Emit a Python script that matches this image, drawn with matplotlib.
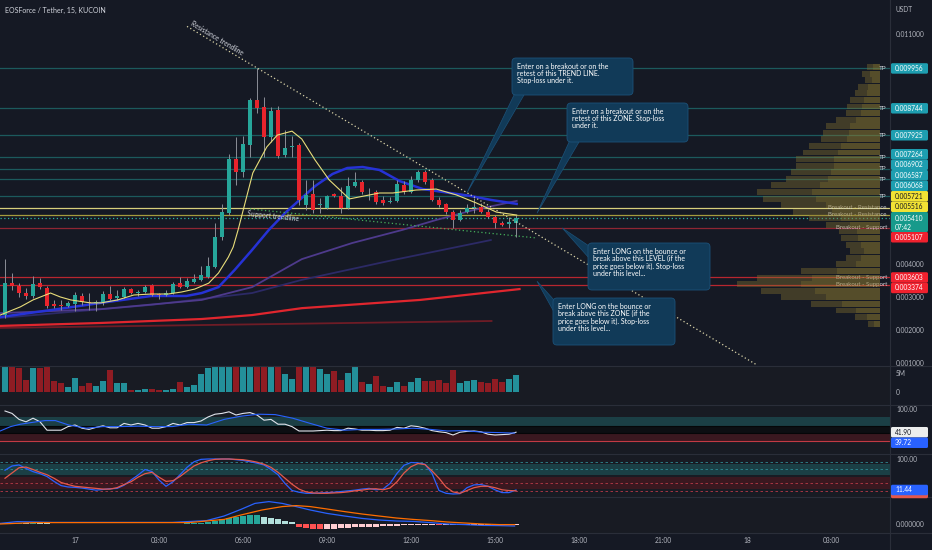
import numpy as np
import matplotlib
matplotlib.use("Agg")
import matplotlib.pyplot as plt
from matplotlib.patches import FancyBboxPatch, Polygon
from matplotlib.lines import Line2D
from matplotlib.transforms import IdentityTransform

plt.rcParams['font.family'] = ['Lato', 'DejaVu Sans']

# ---------------- data ----------------
title = "EOSForce / Tether, 15, KUCOIN"
first_bar_hour = -2.5          # 21:30 on the 16th, hours from 17th 00:00
bar_step = 0.25                # 15 minutes

opens = [0.00246, 0.00344, 0.00334, 0.00313, 0.00304, 0.00344, 0.00328, 0.00280, 0.00277, 0.00274,
         0.00280, 0.00304, 0.00286, 0.00283, 0.00286, 0.00310, 0.00298, 0.00301, 0.00325, 0.00313,
         0.00316, 0.00337, 0.00310, 0.00307, 0.00313, 0.00344, 0.00331, 0.00347, 0.00353, 0.00362,
         0.00392, 0.00483, 0.00556, 0.00720, 0.00681, 0.00763, 0.00900, 0.00878, 0.00787, 0.00869,
         0.00733, 0.00757, 0.00763, 0.00581, 0.00614, 0.00581, 0.00571, 0.00614, 0.00608, 0.00571,
         0.00638, 0.00650, 0.00619, 0.00620, 0.00596, 0.00590, 0.00593, 0.00641, 0.00620, 0.00657,
         0.00681, 0.00657, 0.00596, 0.00584, 0.00559, 0.00535, 0.00559, 0.00571, 0.00574, 0.00559,
         0.00544, 0.00526, 0.00523, 0.00526]
highs = [0.00417, 0.00374, 0.00344, 0.00328, 0.00365, 0.00359, 0.00334, 0.00292, 0.00292, 0.00289,
         0.00316, 0.00313, 0.00313, 0.00292, 0.00319, 0.00334, 0.00322, 0.00331, 0.00328, 0.00322,
         0.00337, 0.00340, 0.00313, 0.00322, 0.00347, 0.00362, 0.00359, 0.00371, 0.00395, 0.00423,
         0.00526, 0.00584, 0.00736, 0.00787, 0.00790, 0.00905, 0.00997, 0.00909, 0.00878, 0.00881,
         0.00809, 0.00790, 0.00769, 0.00657, 0.00657, 0.00602, 0.00611, 0.00617, 0.00635, 0.00666,
         0.00681, 0.00657, 0.00632, 0.00626, 0.00608, 0.00605, 0.00657, 0.00653, 0.00669, 0.00687,
         0.00687, 0.00663, 0.00605, 0.00587, 0.00565, 0.00565, 0.00584, 0.00602, 0.00587, 0.00568,
         0.00550, 0.00532, 0.00541, 0.00550]
lows = [0.00237, 0.00322, 0.00301, 0.00295, 0.00298, 0.00325, 0.00267, 0.00267, 0.00261, 0.00271,
        0.00258, 0.00277, 0.00261, 0.00258, 0.00277, 0.00292, 0.00292, 0.00298, 0.00310, 0.00304,
        0.00313, 0.00304, 0.00295, 0.00304, 0.00310, 0.00328, 0.00328, 0.00344, 0.00350, 0.00359,
        0.00389, 0.00474, 0.00550, 0.00641, 0.00666, 0.00726, 0.00860, 0.00726, 0.00772, 0.00723,
        0.00726, 0.00726, 0.00581, 0.00565, 0.00556, 0.00556, 0.00568, 0.00605, 0.00556, 0.00568,
        0.00635, 0.00614, 0.00596, 0.00584, 0.00581, 0.00587, 0.00590, 0.00614, 0.00617, 0.00650,
        0.00644, 0.00593, 0.00574, 0.00553, 0.00511, 0.00532, 0.00556, 0.00556, 0.00556, 0.00541,
        0.00511, 0.00517, 0.00511, 0.00483]
closes = [0.00344, 0.00334, 0.00313, 0.00304, 0.00340, 0.00331, 0.00274, 0.00274, 0.00275, 0.00283,
          0.00307, 0.00286, 0.00284, 0.00286, 0.00310, 0.00295, 0.00304, 0.00325, 0.00313, 0.00316,
          0.00331, 0.00307, 0.00307, 0.00313, 0.00340, 0.00331, 0.00350, 0.00356, 0.00368, 0.00395,
          0.00483, 0.00559, 0.00720, 0.00681, 0.00766, 0.00900, 0.00875, 0.00787, 0.00866, 0.00729,
          0.00754, 0.00760, 0.00596, 0.00611, 0.00565, 0.00584, 0.00608, 0.00608, 0.00571, 0.00638,
          0.00650, 0.00620, 0.00621, 0.00590, 0.00587, 0.00593, 0.00644, 0.00620, 0.00657, 0.00681,
          0.00650, 0.00596, 0.00581, 0.00559, 0.00535, 0.00556, 0.00571, 0.00573, 0.00559, 0.00544,
          0.00526, 0.00520, 0.00529, 0.00541]
volumes_m = [7.0, 7.0, 6.3, 3.2, 6.3, 6.3, 7.0, 2.8, 2.3, 1.2,
             3.8, 1.7, 2.3, 1.7, 3.0, 5.8, 2.3, 2.3, 0.6, 0.6,
             0.9, 0.8, 0.6, 0.4, 0.8, 2.7, 1.3, 1.9, 4.7, 6.3,
             9.0, 12.0, 10.0, 11.0, 9.5, 13.0, 10.0, 12.0, 9.0, 7.0,
             4.7, 3.4, 7.0, 8.0, 7.0, 6.1, 4.7, 5.5, 3.2, 5.1,
             8.5, 2.7, 2.0, 4.1, 1.7, 1.4, 2.5, 1.5, 2.6, 3.8,
             2.8, 2.8, 3.2, 2.4, 5.8, 2.3, 2.9, 3.2, 2.6, 2.4,
             3.3, 2.6, 3.3, 4.4]

# moving averages (bar position, price)
ma_fast_pos = [-0.7, 2.2, 4.0, 6.5, 7.9, 9.4, 12.2, 13.7, 16.1, 18.4, 20.9, 23.3, 25.2, 27.1, 29.1, 30.5,
               31.9, 32.6, 33.3, 35.4, 37.4, 38.9, 41.0, 42.4, 44.3, 46.3, 49.2, 50.6, 53.5, 55.4, 58.7,
               61.6, 64.5, 67.3, 70.2, 73.1]
ma_fast_val = [0.00246, 0.00271, 0.00292, 0.00313, 0.00301, 0.00292, 0.00283, 0.00283, 0.00292, 0.00307,
               0.00310, 0.00310, 0.00316, 0.00325, 0.00343, 0.00374, 0.00422, 0.00453, 0.00505, 0.00678,
               0.00757, 0.00793, 0.00805, 0.00781, 0.00717, 0.00657, 0.00599, 0.00605, 0.00617, 0.00617,
               0.00626, 0.00629, 0.00611, 0.00587, 0.00559, 0.00550]
ma_blue_pos = [-0.7, 6.5, 13.7, 20.9, 25.9, 28.1, 30.5, 32.8, 35.3, 37.7, 40.0, 42.4, 44.3, 46.8, 48.9,
               51.1, 53.5, 56.4, 59.7, 63.6, 66.5, 69.4, 73.1]
ma_blue_val = [0.00240, 0.00261, 0.00283, 0.00304, 0.00304, 0.00313, 0.00331, 0.00383, 0.00444, 0.00505,
               0.00556, 0.00602, 0.00638, 0.00675, 0.00693, 0.00696, 0.00687, 0.00653, 0.00629, 0.00617,
               0.00608, 0.00596, 0.00584]
ma_purple_pos = [-0.7, 13.7, 28.1, 35.3, 42.4, 49.6, 56.8, 61.6, 66.9, 73.1]
ma_purple_val = [0.00252, 0.00264, 0.00292, 0.00331, 0.00416, 0.00465, 0.00505, 0.00535, 0.00565, 0.00593]
ma_navy_pos = [-0.7, 20.9, 35.3, 42.4, 55.4, 69.4]
ma_navy_val = [0.00237, 0.00277, 0.00313, 0.00353, 0.00413, 0.00474]
ma_red_pos = [-0.7, 13.7, 28.1, 35.3, 42.4, 59.3, 73.5]
ma_red_val = [0.00213, 0.00222, 0.00234, 0.00246, 0.00267, 0.00292, 0.00325]
ma_darkred_pos = [-0.7, 69.5]
ma_darkred_val = [0.00207, 0.00228]

# levels
tp_levels = [0.009956, 0.008744, 0.007925, 0.007264, 0.006902, 0.006587, 0.006068]
resistance_levels = [0.005721, 0.005516]
support_levels = [0.005107, 0.003603, 0.003374]
countdown = "07:42"

# trendlines (hour, price)
res_trend_h = [4.0, 24.357]
res_trend_p = [0.011234, 0.000942]
sup_trend_h = [6.25, 16.5]
sup_trend_p = [0.005684, 0.004802]

# volume profile
vp_price = [0.0100, 0.0098, 0.0096, 0.0094, 0.0092, 0.0090, 0.0088, 0.0086, 0.0084, 0.0082,
            0.0080, 0.0078, 0.0076, 0.0074, 0.0072, 0.0070, 0.0068, 0.0066, 0.0064, 0.0062,
            0.0060, 0.0058, 0.0056, 0.0054, 0.0052, 0.0050, 0.0048, 0.0046, 0.0044, 0.0042,
            0.0040, 0.0038, 0.0036, 0.0034, 0.0032, 0.0030, 0.0028, 0.0026, 0.0024, 0.0022]
vp_size = [13, 18, 15, 22, 25, 30, 33, 35, 45, 55, 58, 60, 72, 78, 85, 85, 90, 95, 110, 125,
           118, 100, 88, 72, 55, 42, 40, 35, 30, 35, 45, 80, 125, 145, 120, 100, 70, 45, 25, 12]

# RSI
rsi = [95, 89, 74, 68, 77, 68, 47, 47, 47, 56, 60, 52, 49, 54, 58, 53, 53, 64, 60, 64,
       60, 52, 52, 56, 64, 60, 66, 66, 70, 80, 87, 89, 93, 85, 89, 91, 85, 72, 74, 62,
       62, 56, 45, 45, 45, 46, 47, 46, 46, 52, 50, 47, 47, 46, 46, 47, 54, 52, 58, 56,
       52, 46, 43, 41, 35, 42, 44, 45, 43, 37, 35, 36, 37, 41.90]
rsi_ma_pos = [-0.7, 0.8, 2.2, 3.7, 5.7, 7.2, 9.1, 11.6, 14.0, 16.5, 19.0, 21.4, 23.9, 26.3, 28.8, 31.3,
              33.7, 36.2, 38.6, 41.1, 43.6, 46.0, 48.5, 51.0, 53.4, 55.9, 58.3, 60.8, 63.2, 65.7, 68.2,
              70.6, 72.8]
rsi_ma_val = [45, 56, 62, 66, 71, 71, 60, 52, 56, 56, 57, 56, 56, 62, 60, 74, 82, 87, 86, 77, 64, 52,
              47, 49, 49, 50, 52, 49, 45, 46, 42, 41, 39.72]

# Stochastic RSI
stoch_k = [68, 80, 83, 73, 64, 58, 50, 36, 24, 20, 19, 17, 14, 11, 13, 15, 16, 25, 40, 54,
           70, 64, 40, 22, 35, 55, 76, 92, 99, 100, 100, 100, 100, 98, 96, 92, 88, 83, 70, 55,
           30, 10, 5, 2, 2, 3, 4, 5, 7, 9, 11, 14, 16, 12, 14, 30, 59, 82, 90, 89,
           85, 59, 10, 2, 0, 1, 18, 26, 27, 22, 12, 4, 4, 11.44]
stoch_d = [45, 60, 75, 77, 70, 62, 55, 45, 33, 27, 22, 20, 18, 16, 14, 14, 18, 27, 35, 48,
           58, 62, 48, 36, 38, 50, 65, 80, 89, 95, 99, 100, 100, 99, 98, 95, 91, 85, 76, 62,
           45, 28, 14, 6, 3, 2, 2, 3, 4, 6, 9, 11, 14, 15, 12, 17, 35, 60, 78, 87,
           84, 66, 45, 20, 6, 2, 10, 18, 22, 22, 18, 12, 10, 9]

# MACD
macd_hist = [0.00003, 0.00006, 0.00007, 0.00006, 0.00007, 0.00006, 0.00004, 0.00002, 0.00001, -0.00001,
             -0.00002, -0.00002, -0.00002, -0.00001, 0.0, 0.00001, 0.00001, 0.00002, 0.00002, 0.00002,
             0.00002, 0.00001, 0.00001, 0.00001, 0.00002, 0.00002, 0.00003, 0.00004, 0.00006, 0.0001,
             0.00017, 0.00023, 0.0003, 0.00037, 0.0004, 0.00043, 0.00043, 0.00037, 0.0003, 0.00023,
             0.00015, 0.00008, -0.00013, -0.00018, -0.00023, -0.00025, -0.00025, -0.00023, -0.0002, -0.00018,
             -0.00017, -0.00017, -0.00015, -0.00013, -0.00012, -0.0001, -0.00008, -0.00007, -0.00005, -0.00005,
             -0.00005, -0.00005, -0.00007, -0.00007, -0.00007, -0.00007, -0.00007, -0.00007, -0.00005, -0.00005,
             -0.00005, -0.00003, -0.00003, -0.00003]
macd_pos = [-0.7, 1.75, 6.7, 14.0, 23.9, 28.8, 31.3, 33.7, 35.7, 37.7, 39.6, 41.6, 43.6, 46.0, 48.5, 51.0,
            53.4, 55.9, 58.3, 60.8, 63.2, 65.7, 68.2, 70.6, 72.8]
macd_val = [0.00003, 0.00012, 0.00008, 0.00008, 0.00008, 0.00017, 0.0004, 0.00073, 0.00103, 0.00112,
            0.00103, 0.00087, 0.0007, 0.00053, 0.0004, 0.00028, 0.0002, 0.00015, 0.00013, 0.00007,
            0.0, -0.00003, -0.00007, -0.00008, -0.0001]
signal_pos = [-0.7, 4.2, 14.0, 26.3, 31.3, 33.7, 36.7, 39.6, 41.6, 43.6, 46.0, 48.5, 51.0, 53.4, 55.9,
              58.3, 60.8, 63.2, 65.7, 68.2, 70.6, 72.8]
signal_val = [0.0, 0.00007, 0.00007, 0.00007, 0.00023, 0.00045, 0.0007, 0.00087, 0.00092, 0.00087,
              0.00075, 0.00062, 0.0005, 0.0004, 0.0003, 0.00023, 0.00017, 0.0001, 0.00005, 0.0,
              -0.00003, -0.00003]

time_tick_hours = [0, 3, 6, 9, 12, 15, 18, 21, 24, 27]
time_tick_labels = ["17", "03:00", "06:00", "09:00", "12:00", "15:00", "18:00", "21:00", "18", "03:00"]

notes = [
    "Enter on a breakout or on the\nretest of this TREND LINE.\nStop-loss under it.",
    "Enter on a breakout or on the\nretest of this ZONE. Stop-loss\nunder it.",
    "Enter LONG on the bounce or\nbreak above this LEVEL (if the\nprice goes below it). Stop-loss\nunder this level...",
    "Enter LONG on the bounce or\nbreak above this ZONE (if the\nprice goes below it). Stop-loss\nunder this level...",
]

# ---------------- figure ----------------
W, H = 932, 550
BG = '#151924'
SUB_BG = '#181b23'
TXT = '#b2b5be'
UP, DOWN = '#26a69a', '#e8242c'
FS = 4.8
XMIN, XMAX = -2.679, 29.107
ID = IdentityTransform()

fig = plt.figure(figsize=(W / 100, H / 100), dpi=100, facecolor=BG)


def add_ax(y0, y1, fc):
    a = fig.add_axes([0, 1 - y1 / H, 890 / W, (y1 - y0) / H])
    a.set_facecolor(fc)
    for s in a.spines.values():
        s.set_visible(False)
    a.set_xlim(XMIN, XMAX)
    a.set_xticks([])
    a.yaxis.tick_right()
    a.tick_params(axis='y', length=0, pad=4.3, labelsize=FS, labelcolor=TXT)
    return a


ax = add_ax(0, 366, BG)
axv = add_ax(366, 405, SUB_BG)
axr = add_ax(405, 454, SUB_BG)
axs = add_ax(454, 497, SUB_BG)
axm = add_ax(497, 533, SUB_BG)

n = len(closes)
t = first_bar_hour + bar_step * np.arange(n)


def pos2h(p):
    return first_bar_hour + bar_step * np.asarray(p)


def ypix(axis, v):
    return H - axis.transData.transform((0, v))[1]


o, h_, l_, c = map(np.array, (opens, highs, lows, closes))
up = c >= o
col = np.where(up, UP, DOWN)

# ---- main panel ----
ax.set_ylim(0.000912, 0.012036)
axv.set_ylim(-3.42, 6.84)
axr.set_ylim(-12.5, 110)
axs.set_ylim(-8.6, 114.3)
axm.set_ylim(-0.00045, 0.00135)

for lv in tp_levels:
    ax.axhline(lv, color='#1c5a5d', lw=0.9, zorder=1)
ax.axhline(resistance_levels[0], color='#d8cf7c', lw=0.9, zorder=1)
ax.axhline(resistance_levels[1], color='#a59c3e', lw=0.9, zorder=1)
ax.axhline(support_levels[0], color='#8f2633', lw=0.9, zorder=1)
for lv in support_levels[1:]:
    ax.axhline(lv, color='#b8262f', lw=0.9, zorder=1)
ax.axhline(c[-1], color='#2bb3a3', lw=0.9, ls=(0, (1, 2)), zorder=1)

# volume profile
axp = ax.twiny()
axp.set_xlim(890, -10)
axp.axis('off')
axp.barh(vp_price, vp_size, height=0.00018, left=0, color='#8a7630', alpha=0.38, lw=0, zorder=1)
axp.barh(vp_price, np.array(vp_size) * 0.55, height=0.00018, left=0, color='#a08a34', alpha=0.22,
         lw=0, zorder=1)

# moving averages
ax.plot(pos2h(ma_darkred_pos), ma_darkred_val, color='#6e1c26', lw=1.3, zorder=2)
ax.plot(pos2h(ma_navy_pos), ma_navy_val, color='#2c2a66', lw=1.3, zorder=2)
ax.plot(pos2h(ma_purple_pos), ma_purple_val, color='#4e3a8c', lw=1.3, zorder=2)
ax.plot(pos2h(ma_red_pos), ma_red_val, color='#e0262e', lw=1.6, zorder=2)
ax.plot(pos2h(ma_blue_pos), ma_blue_val, color='#2632d6', lw=1.8, zorder=3)
ax.plot(pos2h(ma_fast_pos), ma_fast_val, color='#e8dd7a', lw=0.8, zorder=6)

# candles
ax.vlines(t, l_, h_, color='#8b8e97', lw=0.7, zorder=4)
body_lo = np.minimum(o, c)
body_h = np.maximum(np.abs(c - o), 0.00002)
ax.bar(t, body_h, bottom=body_lo, width=0.16, color=col, lw=0, zorder=5)

# trendlines
ax.plot(res_trend_h, res_trend_p, color='#d9d3a8', lw=0.9, ls=(0, (1, 2)), zorder=7)
ax.plot(sup_trend_h, sup_trend_p, color='#45b05a', lw=0.9, ls=(0, (1, 2)), zorder=7)


def line_angle(hx, py):
    p0 = ax.transData.transform((hx[0], py[0]))
    p1 = ax.transData.transform((hx[1], py[1]))
    return np.degrees(np.arctan2(p1[1] - p0[1], p1[0] - p0[0]))


def on_line(hx, py, hh):
    return py[0] + (py[1] - py[0]) * (hh - hx[0]) / (hx[1] - hx[0])


ang_r = line_angle(res_trend_h, res_trend_p)
ax.annotate("Resistance trendline", xy=(5.0, on_line(res_trend_h, res_trend_p, 5.0)),
            xytext=(0, 1.5), textcoords='offset points', rotation=ang_r, rotation_mode='anchor',
            ha='center', va='bottom', fontsize=4.9, color='#d1d4dc', zorder=8)
ang_s = line_angle(sup_trend_h, sup_trend_p)
ax.annotate("Support trendline", xy=(7.1, on_line(sup_trend_h, sup_trend_p, 7.1)),
            xytext=(0, -1.0), textcoords='offset points', rotation=ang_s, rotation_mode='anchor',
            ha='center', va='top', fontsize=4.9, color='#d1d4dc', zorder=8)

# line labels at right edge of the chart
ylab = ax.get_yaxis_transform()
for lv in tp_levels:
    ax.text(0.9965, lv, "TP", transform=ylab, ha='right', va='center', fontsize=4.6, color='#d1d4dc', zorder=9)
for lv in resistance_levels:
    ax.text(0.9965, lv, "Breakout - Resistance", transform=ylab, ha='right', va='center',
            fontsize=4.4, color='#d1d4dc', zorder=9)
for lv in support_levels:
    ax.text(0.9965, lv, "Breakout - Support", transform=ylab, ha='right', va='center',
            fontsize=4.4, color='#d1d4dc', zorder=9)

# ---- volume ----
axv.bar(t, volumes_m, width=0.22, color=np.where(up, '#23909a', '#8f1c23'), lw=0)

# ---- RSI ----
axr.axhspan(57, 80, color='#1b3f45', lw=0)
axr.axhspan(40, 57, color='#0c0e12', lw=0)
axr.axhspan(17, 40, color='#3a1820', lw=0)
axr.axhline(20, color='#c23a44', lw=0.8)
axr.axhline(57, color='#050608', lw=0.8)
axr.axhline(40, color='#050608', lw=0.8)
axr.plot(t, rsi, color='#e0e3eb', lw=0.8)
axr.plot(pos2h(rsi_ma_pos), rsi_ma_val, color='#2962ff', lw=0.8)

# ---- Stoch RSI ----
axs.axhspan(54, 86, color='#1b3f45', lw=0)
axs.axhspan(14, 49, color='#3a1820', lw=0)
for lv in (92, 71):
    axs.axhline(lv, color='#2f8a93', lw=0.6, ls=(0, (3, 3)))
for lv in (31, 9):
    axs.axhline(lv, color='#b83a48', lw=0.6, ls=(0, (3, 3)))
axs.plot(t, stoch_k, color='#2962ff', lw=0.9)
axs.plot(t, stoch_d, color='#e4584b', lw=0.9)

# ---- MACD ----
hist = np.array(macd_hist)
prev = np.concatenate([[0.0], hist[:-1]])
hcol = np.where(hist >= 0, np.where(hist >= prev, '#26a69a', '#b2dfdb'),
                np.where(hist < prev, '#ff5252', '#ffcdd2'))
axm.bar(t, hist, width=0.2, color=hcol, lw=0)
axm.plot(pos2h(macd_pos), macd_val, color='#2962ff', lw=0.9)
axm.plot(pos2h(signal_pos), signal_val, color='#ff6d00', lw=0.9)
axm.set_xticks(time_tick_hours)
axm.set_xticklabels(time_tick_labels)
axm.tick_params(axis='x', length=0, pad=3.0, labelsize=FS, labelcolor=TXT)

# ---- separators ----
for yy in (366, 405, 454, 497, 533):
    fig.add_artist(Line2D([0, W], [H - yy, H - yy], color='#2a2e39', lw=0.8, transform=ID, zorder=2))
fig.add_artist(Line2D([890, 890], [0, H], color='#2a2e39', lw=0.8, transform=ID, zorder=2))

fig.text(5, H - 10, title, transform=ID, fontsize=5.0, color='#d1d4dc', va='center', ha='left')
fig.text(896, H - 10, "USDT", transform=ID, fontsize=FS, color=TXT, va='center', ha='left')


# ---- price tags ----
tag_spans = []


def tag(yc, text, fc, tc, h=10.5, show_text=True):
    yd = H - yc
    fig.add_artist(FancyBboxPatch((891, yd - h / 2), 37, h, boxstyle='round,pad=0,rounding_size=1.5',
                                  fc=fc, ec='none', transform=ID, zorder=8))
    if show_text:
        fig.text(895, yd, text, transform=ID, fontsize=FS, color=tc, va='center', ha='left', zorder=9)
    tag_spans.append((yc - h / 2, yc + h / 2))


TH = 10.5
cur_y = ypix(ax, c[-1])
cur_top, cur_bot = cur_y - 6, cur_y + 14
above = sorted([(lv, '#1e9eb0', 'white') for lv in tp_levels] +
               [(lv, '#f2e234', '#131722') for lv in resistance_levels], key=lambda x: x[0])
limit = cur_top
placed = []
for lv, fc, tc in above:
    yc = min(ypix(ax, lv), limit - TH / 2)
    placed.append((yc, lv, fc, tc))
    limit = yc - TH / 2
limit = cur_bot
for lv in sorted(support_levels, key=lambda x: -x):
    yc = max(ypix(ax, lv), limit + TH / 2)
    placed.append((yc, lv, '#f0212e', 'white'))
    limit = yc + TH / 2
for yc, lv, fc, tc in placed:
    tag(yc, f"{lv:.6f}", fc, tc)
fig.add_artist(FancyBboxPatch((891, H - cur_bot), 37, cur_bot - cur_top, boxstyle='round,pad=0,rounding_size=1.5',
                              fc='#179a8b', ec='none', transform=ID, zorder=8))
tag_spans.append((cur_top, cur_bot))
fig.text(895, H - cur_y, f"{c[-1]:.6f}", transform=ID, fontsize=FS, color='white', va='center', zorder=9)
fig.text(895, H - cur_y - 9, countdown, transform=ID, fontsize=FS, color='white', va='center', zorder=9)

# RSI tags
ry1 = ypix(axr, rsi[-1])
ry2 = max(ypix(axr, rsi_ma_val[-1]), ry1 + TH)
tag(ry1, f"{rsi[-1]:.2f}", '#eceded', '#131722')
tag(ry2, f"{rsi_ma_val[-1]:.2f}", '#2962ff', 'white')
# Stoch tags (D tag mostly hidden under K tag)
sy = ypix(axs, stoch_k[-1])
tag(sy + 3.0, f"{stoch_d[-1]:.2f}", '#e4584b', 'white', show_text=False)
tag(sy, f"{stoch_k[-1]:.2f}", '#2962ff', 'white')


def visible_ticks(axis, values):
    keep = []
    for v in values:
        yy = ypix(axis, v)
        if all(yy + 4 < a or yy - 4 > b for a, b in tag_spans):
            keep.append(v)
    return keep


main_ticks = visible_ticks(ax, [round(0.001 * k, 3) for k in range(1, 12)])
ax.set_yticks(main_ticks)
ax.set_yticklabels([f"{v:.6f}" for v in main_ticks])
axv.set_yticks([0, 5])
axv.set_yticklabels(['0', '5M'])
rt = visible_ticks(axr, [0, 50, 100])
axr.set_yticks(rt)
axr.set_yticklabels([f"{v:.2f}" for v in rt])
st = visible_ticks(axs, [0, 100])
axs.set_yticks(st)
axs.set_yticklabels([f"{v:.2f}" for v in st])
axm.set_yticks([0])
axm.set_yticklabels(['0.000000'])

# ---- callouts ----
BOX_FC, BOX_EC = '#113a58', '#1c5178'
boxes = [(512, 58, 633, 95), (567, 103, 688, 142), (588, 243, 710, 290), (553, 298, 675, 345)]
tail_bases = [((515, 93), (524, 95)), ((570, 140), (579, 142)),
              ((589, 246), (589, 258)), ((554, 300), (554, 312))]
tips_data = [(14.0, on_line(res_trend_h, res_trend_p, 14.0)),
             (16.5, resistance_levels[1] + 0.00004),
             (17.4, support_levels[0]),
             (16.5, (support_levels[1] + support_levels[2]) / 2)]
for (x0, y0, x1, y1), (b1, b2), tip, txt in zip(boxes, tail_bases, tips_data, notes):
    tx, ty = ax.transData.transform(tip)
    fig.add_artist(Polygon([(b1[0], H - b1[1]), (b2[0], H - b2[1]), (tx, ty)], closed=True,
                           fc=BOX_FC, ec=BOX_EC, lw=0.5, transform=ID, zorder=5))
    fig.add_artist(FancyBboxPatch((x0, H - y1), x1 - x0, y1 - y0, boxstyle='round,pad=0,rounding_size=4',
                                  fc=BOX_FC, ec=BOX_EC, lw=0.6, transform=ID, zorder=6))
    fig.text(x0 + 5, H - y0 - 5, txt, transform=ID, fontsize=5.0, color='white', va='top', ha='left',
             linespacing=1.02, zorder=7)

fig.savefig('out.png', dpi=100, facecolor=BG)
